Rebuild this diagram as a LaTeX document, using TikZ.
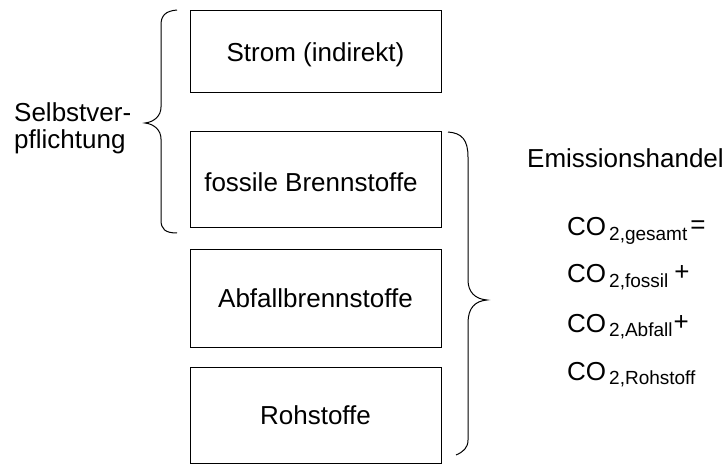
\documentclass[tikz,border=0pt]{standalone}
\usepackage{fontspec}
\setmainfont{Liberation Sans}
\begin{document}
\begin{tikzpicture}[x=1pt,y=-1pt,
  box/.style={draw=black,line width=1pt,minimum width=251pt,inner sep=0pt,
    text height=18.6pt,text depth=0pt,font=\fontsize{26}{30}\selectfont},
  lbl/.style={inner sep=0pt,font=\fontsize{26}{30}\selectfont},
  brace/.style={draw=black,line width=1pt}]
\useasboundingbox (0,0) rectangle (723,465);
\node[box,minimum height=82pt] (strom) at (315.5,52) {Strom (indirekt)};
\node[box,minimum height=96pt] (fossil) at (315.5,180) {};
\node[lbl,anchor=base] (fossiltxt) at (311,191.5) {fossile Brennstoffe};
\node[box,minimum height=97pt] (abfall) at (315.5,298.5) {Abfallbrennstoffe};
\node[box,minimum height=96pt] (roh) at (315.5,415) {Rohstoffe};
% left brace
\path[brace] (177,10) .. controls (165,11) and (161,16) .. (161,25) -- (161,107)
  .. controls (161,116) and (154,122) .. (145,123)
  .. controls (154,124) and (161,130) .. (161,139) -- (161,220)
  .. controls (161,229) and (165,233) .. (177,233);
% right brace
\path[brace] (448,132) .. controls (462,133) and (468,140) .. (468,157) -- (468,280)
  .. controls (468,292) and (475,299) .. (487,300)
  .. controls (475,301) and (468,308) .. (468,323) -- (468,440)
  .. controls (468,448) and (463,452) .. (456,455);
\node[lbl,anchor=base west] (selbst1) at (14,122) {Selbstver-};
\node[lbl,anchor=base west] (selbst2) at (14,149) {pflichtung};
\node[lbl,anchor=base west] (emis) at (527,168) {Emissionshandel};
\newcommand{\mysub}[1]{\raisebox{-4.5pt}{\fontsize{19}{22}\selectfont #1}}
\node[lbl,anchor=base west] (co1) at (567,236) {CO\hspace{3pt}\mysub{2,gesamt}\hspace{3pt}\raisebox{2pt}{=}};
\node[lbl,anchor=base west] (co2) at (567,283) {CO\hspace{3pt}\mysub{2,fossil}\hspace{6pt}\raisebox{2pt}{+}};
\node[lbl,anchor=base west] (co3) at (567,332) {CO\hspace{3pt}\mysub{2,Abfall}\hspace{1pt}\raisebox{2pt}{+}};
\node[lbl,anchor=base west] (co4) at (567,380) {CO\hspace{3pt}\mysub{2,Rohstoff}};
\end{tikzpicture}
\end{document}
